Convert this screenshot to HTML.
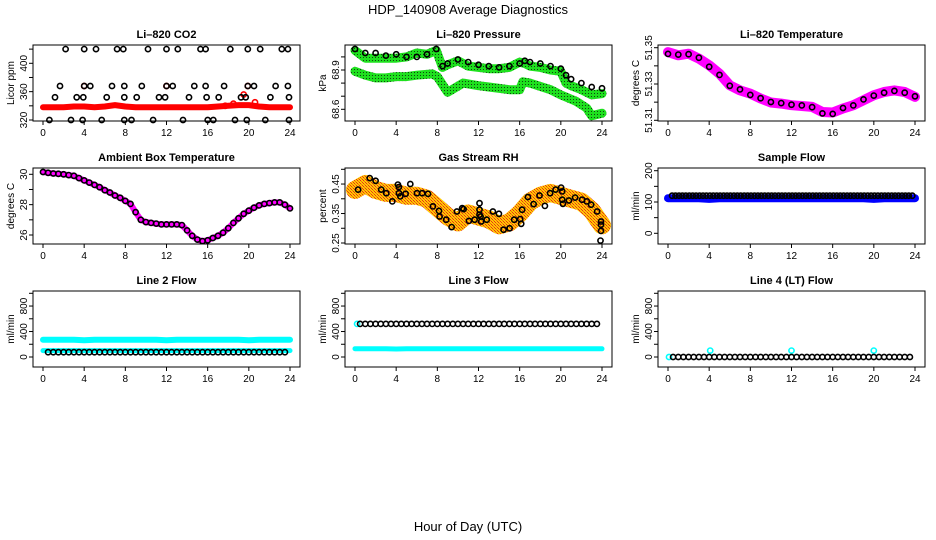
<!DOCTYPE html>
<html><head><meta charset="utf-8"><style>
body{margin:0;background:#fff}
svg{display:block;font-family:"Liberation Sans",sans-serif}
</style></head><body>
<svg id="c" width="936" height="540" viewBox="0 0 936 540">
<defs>
<pattern id="pGreen" width="3" height="3" patternUnits="userSpaceOnUse"><rect width="3" height="3" fill="#1ee01e"/><rect width="1" height="1" fill="#114411"/></pattern>
<pattern id="pRH" width="3" height="3" patternUnits="userSpaceOnUse"><rect width="3" height="3" fill="#ffc800"/><rect width="1" height="1" fill="#e8301a"/><rect x="1" y="1" width="1" height="1" fill="#f07010"/><rect x="2" y="2" width="1" height="1" fill="#e8301a"/></pattern>
</defs>
<text x="468" y="14" text-anchor="middle" font-size="13">HDP_140908  Average Diagnostics</text>
<text x="468" y="531" text-anchor="middle" font-size="13">Hour of Day (UTC)</text>
</svg>
<script>
// ---- data ----
const hourly=[0,1,2,3,4,5,6,7,8,9,10,11,12,13,14,15,16,17,18,19,20,21,22,23,24];
const co2Red=[338,338,338,339,339,338,339,341,339,338,338,338,338,338,338,338,338,339,340,341,341,339,338,338,338];
const co2RedPtH=[4,12,19.9,19.5,17.7,18.5,20.6];
const co2RedPtV=[368,368,368,356,340,343,345];
const co2BlkH=[2.2,4.0,5.15,7.2,7.8,10.2,12.0,13.1,15.3,15.8,18.2,19.9,21.1,23.2,23.8,
1.65,4.0,4.6,6.7,7.9,9.6,12.0,12.6,14.7,15.8,17.6,19.9,20.5,22.6,23.8,
1.17,3.27,3.92,6.19,7.9,9.1,11.27,11.86,14.19,15.9,17.07,19.24,19.7,22.1,23.9,
0.62,2.72,3.85,5.7,7.9,8.6,10.7,13.6,16.0,16.55,18.66,19.8,21.6,23.9];
const co2BlkV=[420,420,420,420,420,420,420,420,420,420,420,420,420,420,420,
368,368,368,368,368,368,368,368,368,368,368,368,368,368,368,
352,352,352,352,352,352,352,352,352,352,352,352,352,352,352,
320,320,320,320,320,320,320,320,320,320,320,320,320,320];
const presH=[0,1,2,3,4,5,6,7,7.9,8.5,9,10,11,12,13,14,15,16,16.5,17,18,19,20,20.5,21,22,23,24];
const presUp=[69.05,68.99,68.99,68.99,68.99,69.0,69.03,69.02,69.05,68.92,68.94,68.97,68.93,68.92,68.91,68.91,68.92,68.96,68.95,68.93,68.92,68.90,68.89,68.80,68.78,68.75,68.71,68.72];
const presBlk=[69.06,69.03,69.03,69.01,69.02,69.0,69.0,69.02,69.06,68.93,68.95,68.98,68.96,68.94,68.93,68.92,68.93,68.95,68.97,68.96,68.95,68.93,68.91,68.86,68.83,68.80,68.77,68.76];
const presLowH=[0,1,2,3,4,5,6,7.5,8,9,10.5,12,13,15,16,16.3,17,19,20,21.5,22.5,23,24];
const presLow=[68.89,68.86,68.84,68.84,68.85,68.85,68.86,68.87,68.85,68.73,68.80,68.78,68.77,68.75,68.75,68.81,68.80,68.75,68.71,68.66,68.61,68.55,68.57];
const tempBand=[51.3476,51.3458,51.3467,51.344,51.3403,51.3357,51.3293,51.3265,51.3247,51.322,51.3198,51.3192,51.3183,51.3179,51.3174,51.3146,51.3143,51.3165,51.3183,51.321,51.3238,51.3256,51.3265,51.3256,51.3229];
const tempBlk=[51.3466,51.3462,51.3464,51.3445,51.3395,51.335,51.329,51.327,51.324,51.3222,51.3201,51.3195,51.3186,51.3182,51.3172,51.3138,51.3135,51.3168,51.3182,51.3215,51.3236,51.3252,51.3262,51.3252,51.3232];
const ambH=[0,.5,1,1.5,2,2.5,3,3.5,4,4.5,5,5.5,6,6.5,7,7.5,8,8.5,9,9.5,10,10.5,11,11.5,12,12.5,13,13.5,14,14.5,15,15.5,16,16.5,17,17.5,18,18.5,19,19.5,20,20.5,21,21.5,22,22.5,23,23.5,24];
const ambT=[30.15,30.1,30.05,30.03,30.0,29.95,29.9,29.75,29.6,29.45,29.3,29.15,28.95,28.8,28.6,28.45,28.25,28.05,27.5,27.0,26.85,26.8,26.75,26.7,26.7,26.7,26.7,26.65,26.3,25.95,25.7,25.6,25.65,25.8,25.95,26.15,26.45,26.8,27.1,27.4,27.6,27.8,27.95,28.05,28.1,28.15,28.15,28.0,27.75];
const rhBand=[0.43,0.45,0.43,0.42,0.42,0.41,0.41,0.40,0.37,0.34,0.32,0.35,0.34,0.33,0.31,0.32,0.35,0.39,0.41,0.42,0.41,0.40,0.39,0.36,0.31];
const rhH=[0.3,1.43,2.0,2.55,3.04,3.62,4.17,4.27,4.27,4.4,4.92,5.37,6.02,6.53,7.09,7.57,8.16,8.22,8.86,9.39,9.9,10.42,10.55,11.07,11.62,12.1,12.1,12.1,12.2,12.26,12.8,13.4,13.98,14.44,15.02,15.47,16.05,16.15,16.24,16.8,17.35,17.93,18.45,18.96,19.49,20.03,20.13,20.13,20.2,20.78,21.39,22.07,22.52,22.94,23.52,23.9,23.9,23.9,23.85];
const rhV=[0.431,0.47,0.461,0.431,0.419,0.391,0.448,0.44,0.419,0.408,0.417,0.45,0.419,0.419,0.417,0.374,0.359,0.34,0.329,0.304,0.357,0.368,0.365,0.325,0.329,0.385,0.363,0.346,0.34,0.323,0.329,0.357,0.349,0.295,0.30,0.329,0.331,0.315,0.363,0.406,0.382,0.411,0.376,0.419,0.431,0.438,0.425,0.397,0.383,0.394,0.404,0.397,0.391,0.38,0.357,0.291,0.323,0.312,0.258];
const sampleBlue=[112,112,112,112,110,112,112,112,112,112,112,112,112,112,112,112,112,112,112,112,110,112,112,112,112];
const sampleBlk=[120,120,120,120,120,120,120,120,120,120,120,120,120,120,120,120,120,120,120,120,120,120,120,120,120];
const line2CyanHi=[270,270,270,270,262,270,270,270,270,270,270,270,262,270,270,270,270,270,270,270,262,270,270,270,270];
const line2CyanLo=[100,100,100,100,100,100,100,100,100,100,100,100,100,100,100,100,100,100,100,100,100,100,100,100,100];
const line2Blk=[75,75,75,75,75,75,75,75,75,75,75,75,75,75,75,75,75,75,75,75,75,75,75,75,75];
const line3CyanLo=[130,130,128,128,125,128,128,128,130,128,128,128,128,128,128,128,128,128,128,128,128,128,128,128,128];
const line3Blk=[520,520,520,520,520,520,520,520,520,520,520,520,520,520,520,520,520,520,520,520,520,520,520,520,520];
const line4Blk=[0,0,0,0,0,0,0,0,0,0,0,0,0,0,0,0,0,0,0,0,0,0,0,0,0];
const line4SpikeH=[0.1,4.1,12.0,20.0];
const line4SpikeV=[0,100,100,100];
const xTicks=[0,4,8,12,16,20,24];

// ---- layout ----
const NS='http://www.w3.org/2000/svg';
const svg=document.getElementById('c');
const X0=[43,355,668], XS=247/24;
function mk(tag,attrs,parent){const e=document.createElementNS(NS,tag);for(const k in attrs)e.setAttribute(k,attrs[k]);(parent||svg).appendChild(e);return e;}
const panels=[
 {c:0,r:0,title:'Li–820 CO2',ylab:'Licor ppm',vA:320,pA:120,vB:400,pB:63.3,ticks:[320,340,360,380,400,420],labels:[320,360,400],name:'co2'},
 {c:1,r:0,title:'Li–820 Pressure',ylab:'kPa',vA:68.9,pA:70,vB:68.6,pB:109.3,ticks:[68.6,68.7,68.8,68.9,69.0],labels:['68.6','68.9'],name:'pressure'},
 {c:2,r:0,title:'Li–820 Temperature',ylab:'degrees C',vA:51.35,pA:47.7,vB:51.31,pB:120.3,ticks:[51.31,51.32,51.33,51.34,51.35],labels:['51.31','51.33','51.35'],name:'li820-temperature'},
 {c:0,r:1,title:'Ambient Box Temperature',ylab:'degrees C',vA:30,pA:51.3,vB:26,pB:112,ticks:[26,27,28,29,30],labels:[26,28,30],name:'ambient-temperature'},
 {c:1,r:1,title:'Gas Stream RH',ylab:'percent',vA:0.5,pA:46.3,vB:0.25,pB:120,ticks:[0.25,0.3,0.35,0.4,0.45,0.5],labels:['0.25','0.35','0.45'],name:'gas-rh'},
 {c:2,r:1,title:'Sample Flow',ylab:'ml/min',vA:200,pA:47.7,vB:0,pB:110.3,ticks:[0,50,100,150,200],labels:[0,100,200],name:'sample-flow'},
 {c:0,r:2,title:'Line 2 Flow',ylab:'ml/min',vA:0,pA:111,vB:1000,pB:47.3,ticks:[0,200,400,600,800,1000],labels:[0,400,800],name:'line2-flow'},
 {c:1,r:2,title:'Line 3 Flow',ylab:'ml/min',vA:0,pA:111,vB:1000,pB:47.3,ticks:[0,200,400,600,800,1000],labels:[0,400,800],name:'line3-flow'},
 {c:2,r:2,title:'Line 4 (LT) Flow',ylab:'ml/min',vA:0,pA:111,vB:1000,pB:47.3,ticks:[0,200,400,600,800,1000],labels:[0,400,800],name:'line4-flow'}
];
panels.forEach(p=>{
 p.off=123*p.r;
 p.x=h=>X0[p.c]+h*XS;
 p.y=v=>p.off+p.pA+(v-p.vA)*(p.pB-p.pA)/(p.vB-p.vA);
 p.g=mk('g',{});
 
 
 const L=X0[p.c]-10,R=X0[p.c]+257,T=45+p.off,B=121+p.off;
 p.L=L;p.T=T;p.B=B;p.R=R;
 const t=mk('text',{x:(L+R)/2,y:T-7,'text-anchor':'middle','font-size':11,'font-weight':'bold'},p.g);t.textContent=p.title;
 
 
 const yt=mk('text',{x:L-19,y:(T+B)/2,'text-anchor':'middle','font-size':10,transform:`rotate(-90 ${L-19} ${(T+B)/2})`},p.g);yt.textContent=p.ylab;
 
 
 p.ticks.forEach(v=>{mk('line',{x1:L-4,x2:L,y1:p.y(v),y2:p.y(v),stroke:'#000','stroke-width':1},p.g);});
 p.labels.forEach(v=>{const yy=p.y(+v);const e=mk('text',{x:L-6,y:yy,'text-anchor':'middle','font-size':10,transform:`rotate(-90 ${L-6} ${yy})`},p.g);e.textContent=v;
  
  });
 xTicks.forEach(h=>{mk('line',{x1:p.x(h),x2:p.x(h),y1:B,y2:B+4,stroke:'#000'},p.g);
  const e=mk('text',{x:p.x(h),y:B+15,'text-anchor':'middle','font-size':10},p.g);e.textContent=h;
  
  });
 p.plot=mk('g',{},p.g);
 
 
 const box=mk('rect',{x:L,y:T,width:R-L,height:B-T,fill:'none',stroke:'#000','stroke-width':1},p.g);
 
 
});
function band(p,hs,vs,color,w,name){const d=hs.map((h,i)=>(i?'L':'M')+p.x(h).toFixed(1)+' '+p.y(vs[i]).toFixed(1)).join(' ');
 const e=mk('path',{d:d,fill:'none',stroke:color,'stroke-width':w,'stroke-linejoin':'round','stroke-linecap':'round'},p.plot);
 
 }
function pts(p,hs,vs,color,name,r){hs.forEach((h,i)=>{const e=mk('circle',{cx:p.x(h).toFixed(1),cy:p.y(vs[i]).toFixed(1),r:r||2.6,fill:'none',stroke:color,'stroke-width':1.6},p.plot);
 
 });}
function perHour(p,vals,n,start,color,name){const hs=[],vs=[];for(let i=0;i<24;i++)for(let k=0;k<n;k++){const h=i+start+k/n;if(h<=23.9){hs.push(h);vs.push(vals[i]);}}pts(p,hs,vs,color,name);}
const P=panels;
band(P[0],hourly,co2Red,'#ff0000',6,'co2-red-band');
pts(P[0],co2RedPtH,co2RedPtV,'#ff0000','co2-red-point');
pts(P[0],co2BlkH,co2BlkV,'#000','co2-point');
band(P[1],presLowH,presLow,'url(#pGreen)',9,'pressure-low-band');
band(P[1],presH,presUp,'url(#pGreen)',9,'pressure-high-band');
pts(P[1],presH,presBlk,'#000','pressure-point');
band(P[2],hourly,tempBand,'#ff00ff',10,'li820-temp-band');
pts(P[2],hourly,tempBlk,'#000','li820-temp-point');
band(P[3],ambH,ambT,'#ff00ff',6,'ambient-band');
pts(P[3],ambH,ambT,'#000','ambient-point');
band(P[4],hourly,rhBand,'url(#pRH)',18,'rh-band');
pts(P[4],rhH,rhV,'#000','rh-point');
band(P[5],hourly,sampleBlue,'#0000ff',8,'sample-blue-band');
perHour(P[5],sampleBlk,3,0.4,'#000','sample-point');
band(P[6],hourly,line2CyanHi,'#00ffff',6,'line2-cyan-high');
band(P[6],hourly,line2CyanLo,'#00ffff',5,'line2-cyan-low');
perHour(P[6],line2Blk,2,0.5,'#000','line2-point');
band(P[7],hourly,line3CyanLo,'#00ffff',5,'line3-cyan-low');
pts(P[7],[0.2],[520],'#00ffff','line3-cyan-point');
perHour(P[7],line3Blk,2,0.5,'#000','line3-point');
pts(P[8],line4SpikeH,line4SpikeV,'#00ffff','line4-cyan-point');
perHour(P[8],line4Blk,2,0.5,'#000','line4-point');
</script>
</body></html>
